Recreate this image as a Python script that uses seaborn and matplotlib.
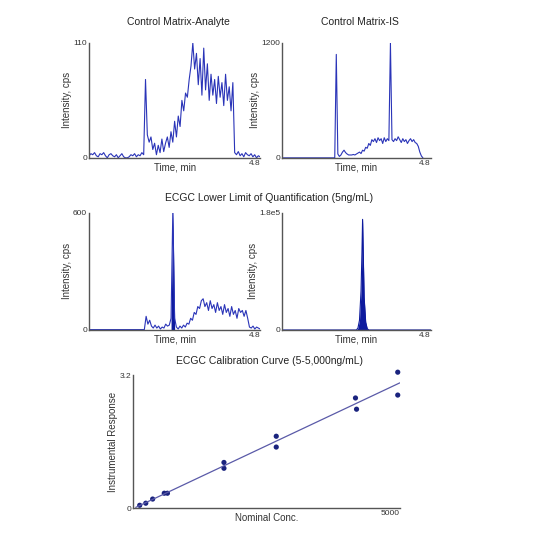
import numpy as np
import matplotlib
matplotlib.use("Agg")
import matplotlib.pyplot as plt
import seaborn as sns

sns.set_theme(style="white")
plt.rcParams['font.family'] = ['Liberation Sans', 'DejaVu Sans']

# ---- data ----
tl_vals = [2,4,3,5,2,1,4,3,5,2,0,3,4,2,1,3,0,2,4,1,0,0,1,3,2,4,1,3,2,5,3,
           75,
           22,15,20,8,14,3,12,5,18,6,14,20,10,25,15,35,20,40,30,55,45,62,58,75,88,
           110,
           85,100,70,95,60,105,65,90,55,80,60,75,52,78,58,72,50,80,55,68,45,72,
           5,3,6,2,4,1,5,3,2,4,1,3,0,2,1]
tr_vals = [0]*35 + [1080] + \
          [40,15,30,60,80,55,40,30,30,30,35,30,40,50] + \
          [60,45,80,70,110,100,150,130,190,170,200,160,210,180,200,150,210,170,200,180] + \
          [1200] + \
          [190,170,200,180,220,190,160,200,170,190,150,180,200,170,190,160,150,120,60,20,0]
ml_vals = [2]*32 + [70,30,50,20,10,25,10,20,5,15,10,30,20,25,60] + [620] + \
          [60,15,5,20,10,25,15,35,30,60,50,90,80,120,110,150] + \
          [160,120,140,100,150,110,130,90,140,100,120,80,130,90,110,70,120,80,100,60,110,90,100,70,100,60] + \
          [15,10,20,5,15,10,5]
mr_time = [0,2.4,2.45,2.5,2.55,2.58,2.6,2.62,2.65,2.7,2.75,2.8,4.8]
mr_vals = [0,0,3e3,1.5e4,6e4,1.2e5,1.7e5,1.2e5,5e4,1.2e4,2e3,0,0]

cal_x = [75,190,320,540,600,1670,1670,2660,2660,4160,4180,4960,4960]
cal_y = [0.07,0.12,0.22,0.36,0.36,1.10,0.96,1.73,1.47,2.65,2.38,3.27,2.72]

titles = ["Control Matrix-Analyte", "Control Matrix-IS",
          "ECGC Lower Limit of Quantification (5ng/mL)",
          "ECGC Calibration Curve (5-5,000ng/mL)"]

blue = "#2a34b8"
dark = "#0d1a9e"
spine = "#555555"

fig = plt.figure(figsize=(5.5, 5.5), dpi=100)

def style(ax, ymax, ylab, xlab, ylabel_txt, xlabel_txt="Time, min", xmax=4.8):
    ax.set_xlim(0, xmax)
    ax.set_ylim(0, ymax)
    ax.set_yticks([0, ymax]); ax.set_yticklabels(["0", ylab])
    ax.set_xticks([xmax]); ax.set_xticklabels([xlab])
    ax.tick_params(length=0, labelsize=6, pad=1.5, colors="#333333")
    ax.set_xlabel(xlabel_txt, fontsize=7, labelpad=-3, color="#333333")
    ax.set_ylabel(ylabel_txt, fontsize=7, labelpad=1, color="#333333")
    for s in ["top", "right"]:
        ax.spines[s].set_visible(False)
    for s in ["left", "bottom"]:
        ax.spines[s].set_color(spine); ax.spines[s].set_linewidth(1.0)
    for lab in ax.get_xticklabels():
        lab.set_horizontalalignment("right")

# top-left
ax1 = fig.add_axes([0.162, 0.713, 0.311, 0.209])
t1 = np.linspace(0, 4.8, len(tl_vals))
sns.lineplot(x=t1, y=tl_vals, ax=ax1, color=blue, lw=0.8)
style(ax1, 110, "110", "4.8", "Intensity, cps")

# top-right
ax2 = fig.add_axes([0.513, 0.713, 0.27, 0.209])
t2 = np.linspace(0, 4.55, len(tr_vals))
sns.lineplot(x=t2, y=tr_vals, ax=ax2, color=blue, lw=0.8)
style(ax2, 1200, "1200", "4.8", "Intensity, cps")

# middle-left
ax3 = fig.add_axes([0.162, 0.40, 0.311, 0.213])
t3 = np.linspace(0, 4.8, len(ml_vals))
sns.lineplot(x=t3, y=ml_vals, ax=ax3, color=blue, lw=0.8)
ax3.fill_between(t3, ml_vals, where=(t3 > 2.28) & (t3 < 2.42), color=dark, lw=0)
style(ax3, 600, "600", "4.8", "Intensity, cps")

# middle-right
ax4 = fig.add_axes([0.513, 0.40, 0.27, 0.213])
sns.lineplot(x=mr_time, y=mr_vals, ax=ax4, color=dark, lw=0.8)
ax4.fill_between(mr_time, mr_vals, color=dark, lw=0)
style(ax4, 1.8e5, "1.8e5", "4.8", "Intensity, cps")

# calibration
ax5 = fig.add_axes([0.242, 0.076, 0.485, 0.242])
p = np.polyfit(cal_x, cal_y, 1)
xx = np.array([0, 5000])
ax5.plot(xx, np.polyval(p, xx), color="#5a5aa8", lw=0.9)
sns.scatterplot(x=cal_x, y=cal_y, ax=ax5, color="#1a237e", s=14, edgecolor="none", clip_on=False)
style(ax5, 3.2, "3.2", "5000", "Instrumental Response", xlabel_txt="Nominal Conc.", xmax=5000)
ax5.set_xlim(-50, 5000)

fig.text(0.325, 0.955, titles[0], ha="center", fontsize=7.5, color="#222222")
fig.text(0.655, 0.955, titles[1], ha="center", fontsize=7.5, color="#222222")
fig.text(0.49, 0.635, titles[2], ha="center", fontsize=7.5, color="#222222")
fig.text(0.49, 0.338, titles[3], ha="center", fontsize=7.5, color="#222222")

fig.savefig("out.png", dpi=100, facecolor="white")
